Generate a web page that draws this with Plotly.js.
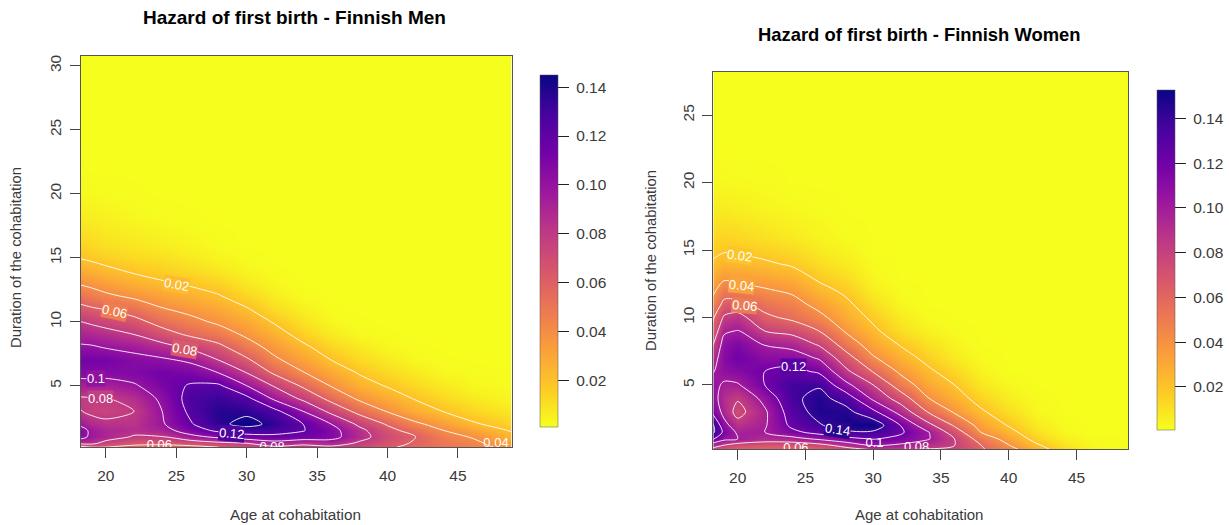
<!DOCTYPE html>
<html><head><meta charset="utf-8">
<script src="https://cdn.plot.ly/plotly-3.0.1.min.js"></script>
<style>html,body{margin:0;padding:0;background:#fff}#chart{width:1229px;height:525px}</style>
</head><body><div id="chart"></div>
<script>
const ageGrid = [18,19,20,22,24,26,28,30,32,34,36,38,40,42,44,46,49];
const menDuration = [.2,.5,1,1.5,2,3,4,5,6,7,8,9,10,11,12,13,14,15,16,18,20,22,25,31];
const womenDuration = [.2,.5,1,1.5,2,3,4,5,6,7,8,9,10,11,12,13,14,15,16,18,20,22,25,29];

// one list per age column, values follow the duration list
const men18 = [.05,.085,.108,.11,.098,.082,.078,.092,.106,.112,.103,.092,.081,.066,.052,.039,.029,.0197,.014,.007,.003,.0015,.001,.001];
const men19 = [.06,.085,.096,.096,.088,.076,.079,.092,.107,.112,.102,.09,.077,.062,.047,.036,.026,.0175,.012,.006,.0025,.001,.001,.001];
const men20 = [.06,.073,.09,.09,.084,.074,.079,.092,.106,.112,.099,.087,.073,.059,.043,.032,.023,.015,.01,.005,.002,.001,.001,.001];
const men22 = [.056,.064,.078,.086,.083,.08,.086,.098,.108,.106,.095,.08,.066,.051,.037,.026,.018,.012,.008,.003,.0015,.001,.001,.001];
const men24 = [.055,.063,.079,.092,.098,.1,.104,.11,.113,.103,.087,.068,.053,.041,.031,.0215,.015,.01,.006,.002,.001,.001,.001,.001];
const men26 = [.055,.068,.094,.11,.118,.124,.127,.122,.11,.097,.077,.057,.045,.035,.026,.018,.012,.007,.004,.0015,.001,.001,.001,.001];
const men28 = [.06,.075,.104,.124,.136,.138,.132,.123,.1,.08,.065,.049,.037,.029,.021,.014,.008,.004,.002,.001,.001,.001,.001,.001];
const men30 = [.07,.08,.112,.131,.146,.136,.125,.1,.08,.063,.048,.037,.029,.021,.013,.007,.004,.002,.001,.001,.001,.001,.001,.001];
const men32 = [.077,.092,.115,.128,.135,.125,.096,.078,.057,.043,.034,.026,.0185,.011,.006,.003,.0015,.001,.001,.001,.001,.001,.001,.001];
const men34 = [.076,.083,.113,.121,.12,.1,.076,.057,.041,.031,.023,.015,.009,.005,.002,.001,.001,.001,.001,.001,.001,.001,.001,.001];
const men36 = [.076,.09,.107,.107,.1,.075,.054,.039,.029,.02,.013,.007,.003,.0015,.001,.001,.001,.001,.001,.001,.001,.001,.001,.001];
const men38 = [.072,.077,.087,.085,.076,.054,.037,.026,.019,.012,.007,.003,.0015,.001,.001,.001,.001,.001,.001,.001,.001,.001,.001,.001];
const men40 = [.062,.066,.07,.066,.058,.039,.027,.019,.012,.007,.003,.0015,.001,.001,.001,.001,.001,.001,.001,.001,.001,.001,.001,.001];
const men42 = [.056,.058,.06,.052,.043,.027,.019,.012,.007,.003,.0015,.001,.001,.001,.001,.001,.001,.001,.001,.001,.001,.001,.001,.001];
const men44 = [.05,.049,.046,.04,.033,.0195,.012,.007,.003,.0015,.001,.001,.001,.001,.001,.001,.001,.001,.001,.001,.001,.001,.001,.001];
const men46 = [.045,.044,.039,.031,.022,.013,.007,.003,.002,.001,.001,.001,.001,.001,.001,.001,.001,.001,.001,.001,.001,.001,.001,.001];
const men49 = [.034,.03,.023,.018,.013,.007,.003,.002,.001,.001,.001,.001,.001,.001,.001,.001,.001,.001,.001,.001,.001,.001,.001,.001];

const women18 = [.075,.09,.125,.15,.15,.122,.112,.108,.097,.086,.073,.06,.052,.042,.033,.027,.021,.016,.012,.006,.003,.001,.001,.001];
const women19 = [.065,.078,.105,.115,.107,.093,.09,.097,.108,.112,.108,.097,.083,.065,.051,.036,.026,.0185,.014,.007,.003,.001,.001,.001];
const women20 = [.06,.07,.1,.097,.088,.073,.082,.098,.112,.12,.114,.101,.088,.066,.048,.034,.025,.018,.013,.006,.0025,.001,.001,.001];
const women22 = [.06,.066,.091,.1,.098,.097,.106,.12,.12,.11,.099,.08,.064,.053,.042,.031,.022,.015,.01,.004,.002,.001,.001,.001];
const women24 = [.06,.066,.093,.115,.124,.13,.136,.137,.126,.11,.094,.074,.056,.047,.037,.027,.018,.012,.007,.003,.001,.001,.001,.001];
const women26 = [.06,.072,.103,.127,.138,.147,.146,.138,.117,.098,.078,.06,.045,.034,.025,.017,.011,.007,.004,.002,.001,.001,.001,.001];
const women28 = [.072,.086,.114,.137,.15,.146,.132,.105,.084,.068,.051,.038,.029,.023,.017,.011,.007,.004,.002,.001,.001,.001,.001,.001];
const women30 = [.08,.1,.121,.137,.153,.125,.096,.08,.059,.042,.031,.023,.017,.011,.006,.003,.002,.001,.001,.001,.001,.001,.001,.001];
const women32 = [.08,.095,.115,.123,.12,.093,.071,.05,.037,.027,.019,.011,.007,.003,.002,.001,.001,.001,.001,.001,.001,.001,.001,.001];
const women34 = [.078,.088,.102,.102,.087,.06,.041,.031,.023,.016,.01,.005,.002,.001,.001,.001,.001,.001,.001,.001,.001,.001,.001,.001];
const women36 = [.076,.08,.08,.07,.058,.038,.027,.02,.013,.007,.004,.002,.001,.001,.001,.001,.001,.001,.001,.001,.001,.001,.001,.001];
const women38 = [.062,.06,.051,.039,.033,.022,.014,.008,.004,.002,.001,.001,.001,.001,.001,.001,.001,.001,.001,.001,.001,.001,.001,.001];
const women40 = [.047,.041,.033,.025,.019,.011,.006,.003,.001,.001,.001,.001,.001,.001,.001,.001,.001,.001,.001,.001,.001,.001,.001,.001];
const women42 = [.028,.023,.015,.01,.007,.003,.002,.001,.001,.001,.001,.001,.001,.001,.001,.001,.001,.001,.001,.001,.001,.001,.001,.001];
const women44 = [.013,.01,.006,.003,.002,.001,.001,.001,.001,.001,.001,.001,.001,.001,.001,.001,.001,.001,.001,.001,.001,.001,.001,.001];
const women46 = [.004,.003,.002,.001,.001,.001,.001,.001,.001,.001,.001,.001,.001,.001,.001,.001,.001,.001,.001,.001,.001,.001,.001,.001];
const women49 = [.001,.001,.001,.001,.001,.001,.001,.001,.001,.001,.001,.001,.001,.001,.001,.001,.001,.001,.001,.001,.001,.001,.001,.001];

const menZ = [men18,men19,men20,men22,men24,men26,men28,men30,men32,men34,men36,men38,men40,men42,men44,men46,men49];
const womenZ = [women18,women19,women20,women22,women24,women26,women28,women30,women32,women34,women36,women38,women40,women42,women44,women46,women49];

const xTicks = [20,25,30,35,40,45];
const menYTicks = [5,10,15,20,25,30];
const womenYTicks = [5,10,15,20,25];
const barTicks = [.02,.04,.06,.08,.10,.12,.14];
const barTickText = ['0.02','0.04','0.06','0.08','0.10','0.12','0.14'];
const palette = [[0,'#f6ff1e'],[.11,'#fdca26'],[.22,'#fb9f3a'],[.33,'#ed7953'],[.44,'#d8576b'],[.56,'#bd3786'],[.67,'#9c179e'],[.78,'#7201a8'],[.89,'#46039f'],[1,'#0a0585']];

// contour labels: text, age, duration, slope of the text, backdrop colour
const menLabelText = ['0.02','0.06','0.08','0.1','0.08','0.12'];
const menLabelAge = [25,20.6,25.6,19.3,19.6,28.9];
const menLabelDur = [12.9,10.8,7.8,5.55,4,1.25];
const menLabelTilt = [10,12,10,0,0,5];
const menLabelBack = ['#fdbb2d','#ee7c50','#d65a6c','#8f12a0','#c13f82','#4d03a0'];
const womenLabelText = ['0.02','0.04','0.06','0.12','0.14'];
const womenLabelAge = [20.1,20.3,20.5,24.15,27.4];
const womenLabelDur = [14.6,12.4,10.9,6.36,1.7];
const womenLabelTilt = [8,5,5,0,8];
const womenLabelBack = ['#fdc527','#f9a33a','#ec7a55','#5a02a4','#2a058f'];
// labels the bottom axis cuts through
const menCutText = ['0.06','0.08','0.04'];
const menCutAge = [23.8,31.8,47.7];
const menCutDur = [.3,.13,.5];
const womenCutText = ['0.06','0.1','0.08'];
const womenCutAge = [24.3,30.1,33.2];
const womenCutDur = [.3,.63,.36];

const W = 1229, H = 525, FONT = 'Liberation Sans, Arial, sans-serif', INK = '#3a3a3a';

function heat(z, y, xa, ya, zmin, zmax, barX, barTop, barBottom) {
  return {type:'heatmap', x:ageGrid, y:y, z:z, transpose:true, xaxis:xa, yaxis:ya, zmin:zmin, zmax:zmax,
    colorscale:palette, zsmooth:'best', hoverinfo:'skip',
    colorbar:{x:barX/W, xanchor:'left', xpad:0, ypad:0, y:1-barBottom/H, yanchor:'bottom',
      len:barBottom-barTop, lenmode:'pixels', thickness:18, thicknessmode:'pixels',
      tickvals:barTicks, ticktext:barTickText.map(t=>'\u00a0'+t), ticks:'outside', ticklen:11, tickcolor:'#222', tickwidth:1,
      tickfont:{family:FONT,size:15.5,color:INK}, outlinecolor:'#555', outlinewidth:0.5}};
}
function lines(z, y, xa, ya) {
  return {type:'contour', x:ageGrid, y:y, z:z, transpose:true, xaxis:xa, yaxis:ya, showscale:false, hoverinfo:'skip',
    line:{color:'rgba(255,255,255,0.88)', width:1, smoothing:0.9},
    contours:{coloring:'none', start:.02, end:.14, size:.02, showlabels:false}};
}
function cutLabels(text, x, y, xa, ya) {
  return {type:'scatter', mode:'text', x:x, y:y, text:text, xaxis:xa, yaxis:ya, cliponaxis:true, hoverinfo:'skip', showlegend:false,
    textposition:'middle center', textfont:{family:FONT,size:13,color:'#ffffff'}};
}
function lineLabels(text, x, y, tilt, back, xa, ya) {
  return text.map((t,i)=>({text:t, x:x[i], y:y[i], xref:xa, yref:ya, showarrow:false, textangle:tilt[i],
    xanchor:'center', yanchor:'middle', borderpad:0, bgcolor:back[i], font:{family:FONT,size:13,color:'#ffffff'}}));
}
function xAxis(l, r, anchor) {
  return {domain:[l/W,r/W], anchor:anchor, range:[18.2,48.8], tickvals:xTicks, ticks:'outside', ticklen:10, tickcolor:'#444',
    showgrid:false, zeroline:false, showline:true, mirror:true, linecolor:'#555', linewidth:1, ticklabelstandoff:4,
    tickfont:{family:FONT,size:15.5,color:INK}, layer:'above traces', tickangle:0};
}
function yAxis(t, b, anchor, range, ticks) {
  return {domain:[1-b/H,1-t/H], anchor:anchor, range:range, tickvals:ticks, ticks:'outside', ticklen:10, tickcolor:'#444',
    showgrid:false, zeroline:false, showline:true, mirror:true, linecolor:'#555', linewidth:1, ticklabelstandoff:2,
    tickfont:{family:FONT,size:15.5,color:INK}, tickangle:-90, layer:'above traces'};
}
function note(text, x, y, size, bold, angle) {
  return {text:bold?'<b>'+text+'</b>':text, xref:'paper', yref:'paper', x:x/W, y:1-y/H, xanchor:'center', yanchor:'middle',
    showarrow:false, textangle:angle||0, font:{family:FONT,size:size,color:bold?'#000':INK}};
}

const layout = {width:W, height:H, margin:{l:0,r:0,t:0,b:0,pad:0}, paper_bgcolor:'#fff', plot_bgcolor:'#fff', showlegend:false,
  xaxis:xAxis(80.5,511.5,'y'), yaxis:yAxis(56,447,'x',[.21,30.76],menYTicks),
  xaxis2:xAxis(713.3,1128,'y2'), yaxis2:yAxis(72,449.3,'x2',[.23,28.2],womenYTicks),
  annotations:[
    note('Hazard of first birth - Finnish Men',294,18,19,true),
    note('Hazard of first birth - Finnish Women',919,35,18.4,true),
    note('Age at cohabitation',295,514,15.3),
    note('Age at cohabitation',919,514,15),
    note('Duration of the cohabitation',16,258,14.8,false,-90),
    note('Duration of the cohabitation',651,260,14.8,false,-90)
  ].concat(
    lineLabels(menLabelText,menLabelAge,menLabelDur,menLabelTilt,menLabelBack,'x','y'),
    lineLabels(womenLabelText,womenLabelAge,womenLabelDur,womenLabelTilt,womenLabelBack,'x2','y2')
  )};

Plotly.newPlot('chart',[
  heat(menZ,menDuration,'x','y',.0008,.145,540,75,427), lines(menZ,menDuration,'x','y'), cutLabels(menCutText,menCutAge,menCutDur,'x','y'),
  heat(womenZ,womenDuration,'x2','y2',.0007,.1527,1157,90,430), lines(womenZ,womenDuration,'x2','y2'), cutLabels(womenCutText,womenCutAge,womenCutDur,'x2','y2')
],layout,{displayModeBar:false,staticPlot:true});
</script></body></html>
